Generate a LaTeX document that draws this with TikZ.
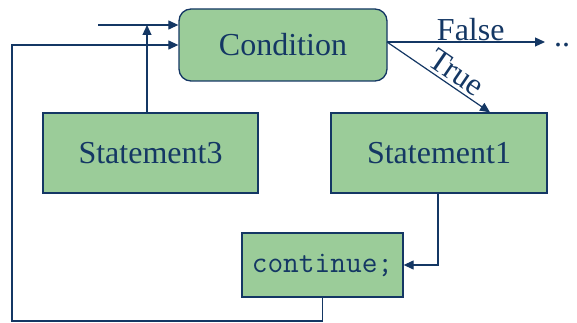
\documentclass[tikz,border=0pt]{standalone}
\usepackage{fontspec}
\setmainfont{Liberation Serif}
\usetikzlibrary{arrows.meta}
\definecolor{boxfill}{RGB}{155,204,153}
\definecolor{navy}{RGB}{20,55,100}
\tikzset{
  box/.style={draw=navy, line width=1.3pt, fill=boxfill, text=navy, inner sep=0pt, font=\fontsize{32}{38}\selectfont},
  conn/.style={draw=navy, line width=1.2pt, -{Triangle[length=10pt,width=9pt]}},
  lbl/.style={text=navy, font=\fontsize{32}{38}\selectfont, inner sep=1pt}
}
\begin{document}
\begin{tikzpicture}[x=1pt,y=-1pt]
\useasboundingbox (0,0) rectangle (577,323);
\node[box, rounded corners=12pt, minimum width=208pt, minimum height=72pt] (cond) at (283,45) {Condition};
\node[box, minimum width=215pt, minimum height=80pt] (s3) at (150.5,153) {Statement3};
\node[box, minimum width=216pt, minimum height=80pt] (s1) at (439,153) {Statement1};
\node[box, minimum width=161pt, minimum height=64pt, font=\fontsize{30.5}{36}\ttfamily] (cont) at (322.5,265) {continue;};
\coordinate (in1) at (98,25);
\coordinate (lp) at (12,321);
\coordinate (fe) at (387,42);
\coordinate (fend) at (545,42);
\node[lbl, anchor=west] (dots) at (553,45) {..};
\draw[conn] (in1) -- (in1 -| cond.west);
\draw[conn] ([xshift=-3.5pt]s3.north) -- ([xshift=-3.5pt]s3.north |- in1);
\draw[conn] (cont.south) |- (lp) |- (cond.west);
\draw[conn] (fe) -- node[lbl, above, pos=0.53] {False} (fend);
\draw[conn] (fe) -- node[lbl, sloped, above=2pt, pos=0.6] {True} ([xshift=51pt]s1.north);
\draw[conn] ([xshift=-1pt]s1.south) |- (cont.east);
\end{tikzpicture}
\end{document}
